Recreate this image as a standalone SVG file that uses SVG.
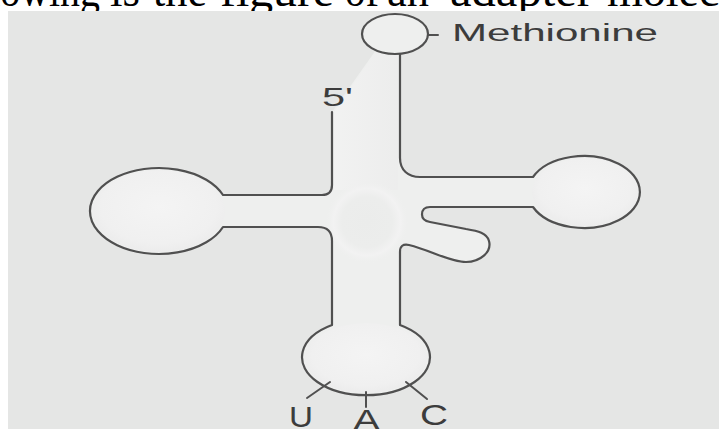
<svg xmlns="http://www.w3.org/2000/svg" width="719" height="429" viewBox="0 0 719 429">
  <defs>
    <radialGradient id="loopShade" cx="0.5" cy="0.45" r="0.55">
      <stop offset="0" stop-color="#f4f4f4"/>
      <stop offset="0.8" stop-color="#f0f0f0"/>
      <stop offset="1" stop-color="#ececec"/>
    </radialGradient>
    <radialGradient id="coreShade" cx="0.5" cy="0.5" r="0.5">
      <stop offset="0" stop-color="#ebeceb"/>
      <stop offset="0.6" stop-color="#ecedec"/>
      <stop offset="0.8" stop-color="#f2f2f2"/>
      <stop offset="1" stop-color="#eeefee" stop-opacity="0"/>
    </radialGradient>
    <linearGradient id="stemShade" x1="0" y1="0" x2="1" y2="0">
      <stop offset="0" stop-color="#f3f3f3"/>
      <stop offset="1" stop-color="#ececec"/>
    </linearGradient>
  </defs>
  <style>
    .caption { font-family: "Liberation Serif", "Times New Roman", serif; font-size: 46px; fill: #000; }
    .strand { fill: none; stroke: #505050; stroke-width: 2.2; stroke-linejoin: round; stroke-linecap: round; }
    .tick { fill: none; stroke: #505050; stroke-width: 2; stroke-linecap: round; }
    .label { font-family: "Liberation Sans", Arial, sans-serif; fill: #3c3c3c; }
  </style>

  <!-- page background and clipped caption line -->
  <rect x="0" y="0" width="719" height="429" fill="#ffffff"/>
  <g id="caption">
    <text class="caption" x="-64" y="6" textLength="164" lengthAdjust="spacingAndGlyphs">Following</text>
    <text class="caption" x="110" y="6" textLength="30" lengthAdjust="spacingAndGlyphs">is</text>
    <text class="caption" x="153" y="6" textLength="54" lengthAdjust="spacingAndGlyphs">the</text>
    <text class="caption" x="220" y="6" textLength="114" lengthAdjust="spacingAndGlyphs">figure</text>
    <text class="caption" x="345" y="6" textLength="34" lengthAdjust="spacingAndGlyphs">of</text>
    <text class="caption" x="387" y="6" textLength="42" lengthAdjust="spacingAndGlyphs">an</text>
    <text class="caption" x="450" y="6" textLength="143" lengthAdjust="spacingAndGlyphs">adapter</text>
    <text class="caption" x="607" y="6">molecule</text>
  </g>

  <!-- figure panel -->
  <rect x="8" y="11" width="711" height="418" fill="#e5e6e5"/>

  <!-- body fill of the tRNA cloverleaf -->
  <g id="body-fill">
    <path fill="#eeefee" d="M 332,112 V 185 Q 332,195 322,195 H 223 A 69 43 0 1 0 223,227 H 318 Q 332,227 332,241 V 325 A 64 38 0 1 0 400,325 V 252 Q 400,243 409,245 C 430,250 450,262 466,262 C 480,262 492,252 489,241 C 487,233 478,231 466,229 L 430,222 Q 422,220.5 422,214.5 Q 422,207 430,207 H 533 A 56 36 0 1 0 533,177 H 420 C 408,177 400,170 400,158 V 54 L 376,50 Z"/>
    <path fill="url(#stemShade)" opacity="0.7" d="M 334,112 L 376,52 L 398,54 V 190 H 334 Z"/>
    <circle cx="367" cy="222" r="42" fill="url(#coreShade)"/>
  </g>

  <!-- D arm (left loop) -->
  <g id="d-loop">
    <ellipse cx="159" cy="211" rx="66" ry="41" fill="url(#loopShade)"/>
  </g>

  <!-- T arm (right loop) -->
  <g id="t-loop">
    <ellipse cx="585" cy="192" rx="53" ry="34" fill="url(#loopShade)"/>
  </g>

  <!-- anticodon arm -->
  <g id="anticodon-loop">
    <ellipse cx="366" cy="358" rx="61" ry="35" fill="url(#loopShade)"/>
    <path class="tick" d="M 330,382 L 307,398"/>
    <path class="tick" d="M 366,392 L 366,407"/>
    <path class="tick" d="M 406,382 L 427,399"/>
    <text class="label" x="289" y="427" font-size="30" textLength="24" lengthAdjust="spacingAndGlyphs">U</text>
    <text class="label" x="353" y="430" font-size="30" textLength="27" lengthAdjust="spacingAndGlyphs">A</text>
    <text class="label" x="420" y="425" font-size="30" textLength="28" lengthAdjust="spacingAndGlyphs">C</text>
  </g>

  <!-- sugar-phosphate backbone, 5' end to acceptor end -->
  <g id="backbone">
    <path class="strand" d="M 332,112 V 185 Q 332,195 322,195 H 223 A 69 43 0 1 0 223,227 H 318 Q 332,227 332,241 V 325 A 64 38 0 1 0 400,325 V 252 Q 400,243 409,245 C 430,250 450,262 466,262 C 480,262 492,252 489,241 C 487,233 478,231 466,229 L 430,222 Q 422,220.5 422,214.5 Q 422,207 430,207 H 533 A 56 36 0 1 0 533,177 H 420 C 408,177 400,170 400,158 V 54"/>
  </g>

  <!-- 5' end label -->
  <g id="five-prime">
    <text class="label" x="322" y="106" font-size="26" textLength="31" lengthAdjust="spacingAndGlyphs">5'</text>
  </g>

  <!-- amino acid attachment site -->
  <g id="acceptor-end">
    <ellipse cx="395" cy="34" rx="33" ry="20" fill="#eeefee" stroke="#505050" stroke-width="2.2"/>
    <path class="tick" d="M 428,35 H 438"/>
    <text class="label" x="452" y="41" font-size="23" fill="#555555" textLength="206" lengthAdjust="spacingAndGlyphs">Methionine</text>
  </g>
</svg>
